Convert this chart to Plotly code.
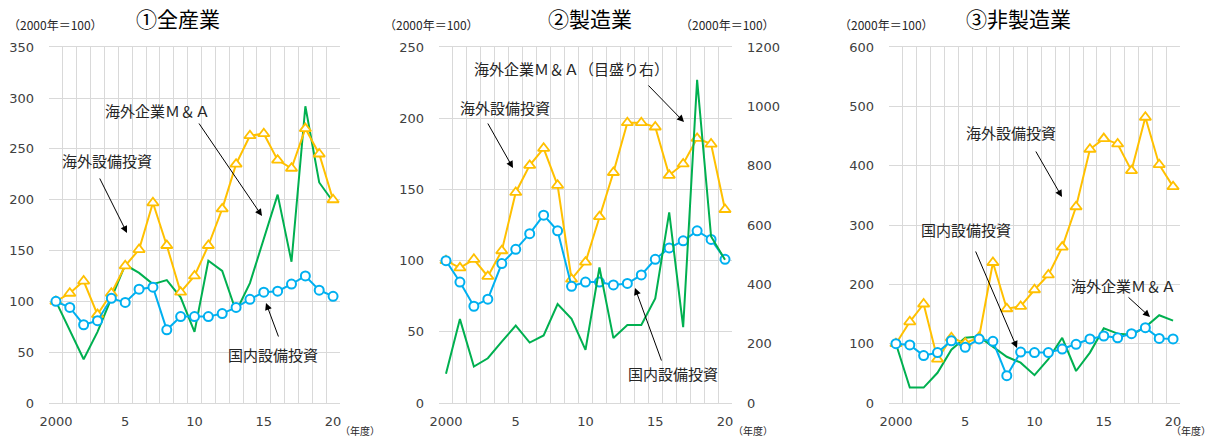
import plotly.graph_objects as go

# fiscal years 2000..2020 as category positions 0..20
years = list(range(21))
tick_pos = [0, 5, 10, 15, 20]
tick_text = ["2000", "5", "10", "15", "20"]

# ① all industries
all_domestic = [100, 94, 77, 81, 103, 99, 112, 114, 72, 85, 85, 85, 88, 94, 102, 109, 110, 117, 125, 111, 105]
all_overseas = [100, 108, 120, 87, 108, 135, 151, 197, 155, 109, 125, 155, 191, 235, 263, 265, 239, 231, 270, 245, 200]
all_mna = [100, 72, 43, 70, 104, 136, 128, 117, 121, 104, 70, 140, 130, 90, 118, 161, 205, 139, 292, 217, 198]

# ② manufacturing (M&A on right axis)
mfg_domestic = [100, 85, 68, 73, 98, 108, 119, 132, 121, 82, 85, 85, 83, 84, 90, 101, 109, 114, 121, 115, 101]
mfg_overseas = [100, 95, 101, 89, 107, 148, 167, 179, 153, 87, 99, 131, 162, 197, 197, 194, 160, 168, 186, 182, 136]
mfg_mna = [99, 283, 123, 151, 207, 261, 204, 228, 334, 284, 179, 457, 219, 263, 263, 353, 643, 256, 1090, 562, 483]

# ③ non-manufacturing
non_domestic = [100, 98, 80, 85, 105, 94, 108, 104, 46, 86, 85, 85, 91, 99, 108, 113, 110, 117, 127, 109, 108]
non_overseas = [100, 137, 167, 74, 110, 101, 111, 237, 159, 163, 191, 216, 263, 331, 428, 446, 437, 392, 482, 402, 365]
non_mna = [100, 26, 26, 51, 90, 110, 112, 95, 78, 68, 47, 74, 110, 54, 85, 126, 117, 115, 128, 148, 139]

BLUE = "#00B0F0"
ORANGE = "#FFC000"
GREEN = "#00B050"
GRID = "#D9D9D9"
TXT = "#404040"
JP = "Noto Sans CJK JP"
NUM = "DejaVu Sans"

W, H = 1213, 438


def px(x):
    return x / W


def py(y):
    return 1 - y / H


fig = go.Figure()


def add_panel(n, domestic, overseas, mna, mna_axis=None):
    xa = "x" if n == 1 else f"x{n}"
    ya = "y" if n == 1 else f"y{n}"
    fig.add_trace(go.Scatter(
        x=years, y=mna, mode="lines", line=dict(color=GREEN, width=2),
        xaxis=xa, yaxis=mna_axis or ya, showlegend=False))
    fig.add_trace(go.Scatter(
        x=years, y=overseas, mode="lines+markers", line=dict(color=ORANGE, width=2),
        marker=dict(symbol="triangle-up", size=10, color="white",
                    line=dict(color=ORANGE, width=1.8)),
        xaxis=xa, yaxis=ya, showlegend=False))
    fig.add_trace(go.Scatter(
        x=years, y=domestic, mode="lines+markers", line=dict(color=BLUE, width=2),
        marker=dict(symbol="circle", size=9, color="white",
                    line=dict(color=BLUE, width=2)),
        xaxis=xa, yaxis=ya, showlegend=False))


add_panel(1, all_domestic, all_overseas, all_mna)
add_panel(2, mfg_domestic, mfg_overseas, mfg_mna, mna_axis="y4")
add_panel(3, non_domestic, non_overseas, non_mna)

y_dom = [py(403), py(47.3)]


def xaxis(x0, x1, anchor):
    return dict(
        domain=[px(x0), px(x1)], anchor=anchor, range=[-0.5, 20.5],
        tickvals=tick_pos, ticktext=tick_text, showgrid=False, zeroline=False,
        showline=True, linecolor=GRID, mirror=True, ticks="",
        ticklabelstandoff=6, automargin=False,
        tickfont=dict(family=NUM, size=13, color=TXT),
        minor=dict(tickvals=[i - 0.5 for i in range(22)], showgrid=True,
                   gridcolor=GRID, gridwidth=1, ticks=""),
    )


def yaxis(top, dtick, anchor, side="left", grid=True):
    return dict(
        domain=y_dom, anchor=anchor, range=[0, top], dtick=dtick, side=side,
        showgrid=grid, gridcolor=GRID, gridwidth=1, zeroline=False,
        showline=False, ticks="", ticklabelstandoff=14, automargin=False,
        tickfont=dict(family=NUM, size=13, color=TXT),
    )


layout = dict(
    width=W, height=H, margin=dict(l=0, r=0, t=0, b=0),
    paper_bgcolor="white", plot_bgcolor="white", template="none",
    xaxis=xaxis(49, 340, "y"),
    xaxis2=xaxis(439, 732, "y2"),
    xaxis3=xaxis(889, 1180, "y3"),
    yaxis=yaxis(350, 50, "x"),
    yaxis2=yaxis(250, 50, "x2"),
    yaxis3=yaxis(600, 100, "x3"),
)
y4 = yaxis(1200, 200, "x2", side="right", grid=False)
y4["overlaying"] = "y2"
layout["yaxis4"] = y4
fig.update_layout(**layout)

ann = []


def text(x, y, s, size=15, color="#262626", family=JP):
    ann.append(dict(x=px(x), y=py(y), xref="paper", yref="paper", text=s,
                    showarrow=False, xanchor="center", yanchor="middle",
                    font=dict(family=family, size=size, color=color)))


def arrow(tx, ty, hx, hy):
    ann.append(dict(x=px(hx), y=py(hy), xref="paper", yref="paper", text="",
                    showarrow=True, axref="pixel", ayref="pixel",
                    ax=tx - hx, ay=ty - hy, arrowhead=2, arrowsize=1.4,
                    arrowwidth=1, arrowcolor="black"))


# titles and units
text(178, 18, "①全産業", size=21, color="#000000")
text(590, 18, "②製造業", size=21, color="#000000")
text(1018, 18, "③非製造業", size=21, color="#000000")
text(55, 24, "（2000年＝100）", size=12)
text(431, 24, "（2000年＝100）", size=12)
text(727, 24, "（2000年＝100）", size=12)
text(886, 24, "（2000年＝100）", size=12)
text(360, 430.5, "（年度）", size=10)
text(753, 430.5, "（年度）", size=10)
text(1191, 430.5, "（年度）", size=10)

# panel 1 labels
text(157, 110, "海外企業Ｍ＆Ａ")
arrow(198, 122, 262, 216)
text(107, 160, "海外設備投資")
arrow(99, 177, 127, 233)
text(273, 354, "国内設備投資")
arrow(279, 338, 266, 303)

# panel 2 labels
text(571, 68, "海外企業Ｍ＆Ａ（目盛り右）")
arrow(647, 84, 684, 122)
text(505, 107, "海外設備投資")
arrow(487, 122, 513, 168)
text(673, 373, "国内設備投資")
arrow(662, 362, 635, 288)

# panel 3 labels
text(1011, 133, "海外設備投資")
arrow(1035, 150, 1062, 197)
text(966, 229, "国内設備投資")
arrow(975, 250, 1017, 348)
text(1123, 285, "海外企業Ｍ＆Ａ")
arrow(1127, 296, 1150, 317)

fig.update_layout(annotations=ann)

# drop the browser's default body margin so the figure sits at (0, 0)
fig.write_html("out.html", config={"displayModeBar": False},
               post_script="document.body.style.margin='0';")
